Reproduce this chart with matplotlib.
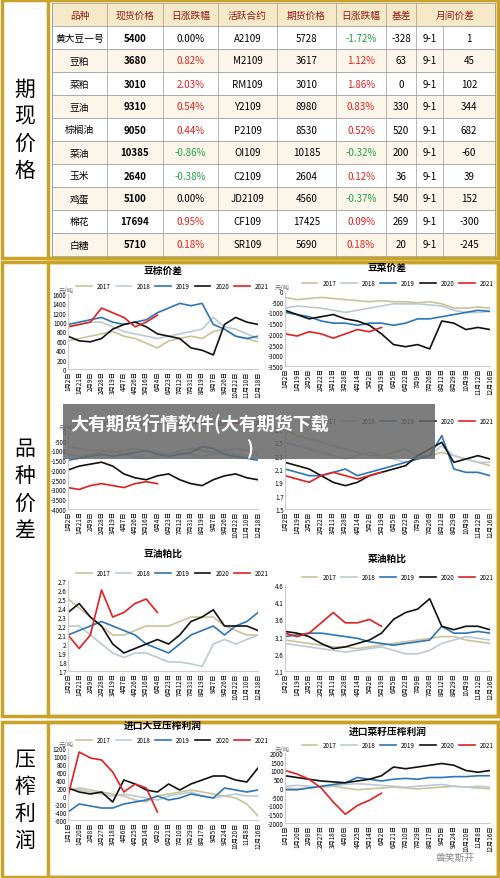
import matplotlib
matplotlib.use("Agg")
import matplotlib.pyplot as plt
from matplotlib.patches import Rectangle
import numpy as np

plt.rcParams['font.family'] = ['Noto Sans CJK SC', 'DejaVu Sans']

# ---------------- table data ----------------
header = ["品种", "现货价格", "日涨跌幅", "活跃合约", "期货价格", "日涨跌幅", "基差", "月间价差"]
varieties = ["黄大豆一号", "豆粕", "菜粕", "豆油", "棕榈油", "菜油", "玉米", "鸡蛋", "棉花", "白糖"]
spot = ["5400", "3680", "3010", "9310", "9050", "10385", "2640", "5100", "17694", "5710"]
spot_chg = [0.00, 0.82, 2.03, 0.54, 0.44, -0.86, -0.38, 0.00, 0.95, 0.18]
contracts = ["A2109", "M2109", "RM109", "Y2109", "P2109", "OI109", "C2109", "JD2109", "CF109", "SR109"]
futures = ["5728", "3617", "3010", "8980", "8530", "10185", "2604", "4560", "17425", "5690"]
fut_chg = [-1.72, 1.12, 1.86, 0.83, 0.52, -0.32, 0.12, -0.37, 0.09, 0.18]
basis = ["-328", "63", "0", "330", "520", "200", "36", "540", "269", "20"]
spread_name = ["9-1"] * 10
spread = ["1", "45", "102", "344", "682", "-60", "39", "152", "-300", "-245"]

# ---------------- chart data ----------------
years = ["2017", "2018", "2019", "2020", "2021"]
ycolors = ["#c9c39a", "#bcc9d4", "#2e75b6", "#111111", "#e02020"]
ticks_a = ["1月2日","1月21日","2月9日","2月28日","3月19日","4月7日","4月26日","5月16日","6月4日",
           "6月23日","7月12日","7月31日","8月19日","9月7日","9月26日","10月22日","11月10日","12月18日"]
ticks_b = ["1月2日","1月19日","2月5日","2月22日","3月11日","3月28日","4月14日","5月2日","5月19日",
           "6月5日","6月22日","7月9日","7月26日","8月12日","8月29日","10月9日","11月12日","12月16日"]
ticks_c = ["1月1日","1月20日","2月8日","2月27日","3月18日","4月6日","4月25日","5月14日","6月2日",
           "6月21日","7月10日","7月29日","8月17日","9月5日","9月24日","10月20日","11月8日","12月16日"]

doupalm = [[600,650,700,750,800,700,650,550,450,600,650,700,650,800,850,700,650,580],
           [900,950,1000,1000,900,800,750,700,650,700,750,800,850,1100,900,850,750,650],
           [950,1000,1050,1100,1000,950,1000,1050,1200,1300,1400,1350,1400,950,850,700,650,700],
           [700,600,580,650,850,950,1000,900,750,700,650,450,400,300,950,1100,1000,950],
           [900,950,1000,1300,1200,1100,900,1000,1150]]
douyc = [[-300,-400,-350,-300,-350,-400,-450,-500,-450,-500,-500,-550,-500,-600,-800,-800,-750,-800],
         [-800,-700,-750,-800,-900,-1000,-900,-800,-700,-600,-600,-600,-650,-700,-900,-1000,-1000,-950],
         [-1000,-1100,-1200,-1400,-1500,-1500,-1600,-1500,-1500,-1600,-1500,-1300,-1300,-1200,-1100,-1000,-900,-950],
         [-900,-1100,-1300,-1200,-1100,-1300,-1400,-1600,-2000,-2500,-2600,-2500,-2700,-1400,-1500,-1800,-1700,-1800],
         [-2000,-2100,-1900,-2000,-2200,-2000,-1800,-1900,-1700]]
hidden_left = [[-800,-900,-1000,-1000,-1100,-1000,-900,-1000,-1100,-1200,-1000,-900,-1000,-1100,-1000,-900,-1000,-1100],
               [-1200,-1300,-1200,-1100,-1000,-1200,-1300,-1400,-1300,-1200,-1100,-1200,-1300,-1200,-1100,-1200,-1300,-1200],
               [-1500,-1400,-1300,-1200,-1300,-1200,-1100,-1000,-1200,-1300,-1200,-1100,-800,-900,-1200,-1300,-1400,-1500],
               [-2000,-1800,-1700,-1600,-1800,-2200,-2400,-2500,-2300,-2200,-2500,-2700,-2800,-2500,-2300,-2200,-2400,-2500],
               [-2900,-3000,-2800,-2700,-2800,-2900,-2700,-2600,-2700]]
hidden_right = [[2.7,2.6,2.55,2.5,2.45,2.4,2.35,2.3,2.3,2.35,2.4,2.3,2.3,2.35,2.3,2.25,2.2,2.15],
                [2.5,2.45,2.4,2.35,2.3,2.25,2.3,2.35,2.3,2.25,2.2,2.25,2.3,2.45,2.3,2.25,2.2,2.2],
                [2.1,2.05,2.0,2.0,2.05,2.1,2.0,2.05,2.1,2.15,2.2,2.25,2.3,2.6,2.1,2.05,2.05,2.0],
                [2.2,2.15,2.1,2.0,1.9,1.85,1.9,2.0,2.05,2.1,2.15,2.3,2.4,2.5,2.2,2.25,2.3,2.25],
                [2.0,1.95,1.9,2.0,2.05,2.0,1.95,2.0,2.05]]
dyzb = [[2.5,2.4,2.3,2.2,2.1,2.1,2.15,2.2,2.2,2.2,2.25,2.3,2.3,2.3,2.2,2.15,2.1,2.1],
        [2.2,2.2,2.1,2.0,1.9,1.85,1.9,1.9,1.85,1.8,1.8,1.78,1.75,2.0,2.05,2.0,2.05,2.1],
        [2.1,2.15,2.2,2.25,2.2,2.15,2.1,2.0,1.95,1.9,2.0,2.1,2.15,2.2,2.1,2.2,2.25,2.35],
        [2.35,2.45,2.3,2.2,2.0,1.9,1.95,2.0,2.05,2.0,2.1,2.25,2.3,2.38,2.2,2.2,2.2,2.15],
        [2.1,1.95,2.1,2.6,2.3,2.35,2.45,2.5,2.35]]
cyzb = [[3.0,2.95,2.9,2.85,2.8,2.8,2.75,2.8,2.85,2.9,2.95,3.0,3.05,3.1,3.1,3.0,2.95,2.9],
        [2.9,2.85,2.8,2.75,2.7,2.65,2.7,2.75,2.8,2.7,2.6,2.6,2.7,2.9,3.0,3.1,3.05,3.0],
        [3.1,3.15,3.2,3.2,3.15,3.1,3.05,2.95,2.9,2.85,2.9,2.95,3.0,3.4,3.2,3.2,3.25,3.2],
        [3.25,3.2,3.1,2.9,2.75,2.8,2.9,3.0,3.2,3.6,3.8,3.9,4.2,3.4,3.3,3.4,3.4,3.3],
        [3.2,3.1,3.2,3.5,3.8,3.5,3.5,3.6,3.4]]
soy_crush = [[150,200,150,100,50,0,-100,-150,0,50,100,150,100,50,0,-50,-200,-500],
             [200,150,100,50,0,50,0,-50,-100,0,50,100,0,-50,0,50,0,0],
             [-400,-200,-250,-300,-300,-200,-150,-100,0,-100,-50,50,0,-50,200,150,100,150],
             [200,100,50,100,-150,400,300,150,100,300,150,300,400,500,500,400,350,700],
             [0,1100,950,900,600,100,300,200,-400]]
rape_crush = [[0,-50,0,50,100,0,-100,-50,0,50,0,-50,0,50,100,50,0,-50],
              [100,150,100,50,150,200,250,200,150,100,50,100,150,200,100,50,100,50],
              [-100,-100,0,100,200,300,600,500,400,500,550,500,600,600,650,650,700,700],
              [700,600,500,400,350,300,400,500,700,1200,1100,1200,1300,1400,1300,1000,900,1000],
              [1000,800,500,0,-800,-1500,-1000,-700,-300]]

W, H = 500, 879
fig = plt.figure(figsize=(5, 8.79), dpi=100)
fig.patch.set_facecolor("white")
GOLD = "#c9a227"

def rect(x, y, w, h, **kw):
    fig.add_artist(Rectangle((x / W, 1 - (y + h) / H), w / W, h / H, transform=fig.transFigure, **kw))

def ftext(x, y, s, **kw):
    fig.text(x / W, 1 - y / H, s, **kw)

# sections
for (y0, y1, lab) in [(0, 260, "期\n现\n价\n格"), (262, 718, "品\n种\n价\n差"), (722, 879, "压\n榨\n利\n润")]:
    rect(2, y0 + 1, 496, y1 - y0 - 2, facecolor="none", edgecolor=GOLD, lw=2.5, zorder=-5)
    rect(48, y0 + 1, 450, y1 - y0 - 2, facecolor="none", edgecolor=GOLD, lw=2.5, zorder=-5)
    ftext(25, (y0 + y1) / 2, lab, ha="center", va="center", fontsize=15, linespacing=1.3)

# table
colx = [52, 107, 163, 218, 277, 336, 386, 416, 443, 495]
top, rh = 4, 23
nrows = 11
for i in range(nrows):
    y = top + i * rh
    fc = "#f6e9c8" if i == 0 else ("#fbf6e9" if i % 2 == 0 else "white")
    rect(colx[0], y, colx[-1] - colx[0], rh, facecolor=fc, edgecolor="#999999", lw=0.5)
for k, x in enumerate(colx):
    ystart = top + rh if k == 8 else top
    fig.add_artist(plt.Line2D([x / W, x / W], [1 - ystart / H, 1 - (top + nrows * rh) / H],
                              transform=fig.transFigure, color="#999999", lw=0.5))
for j, hname in enumerate(header):
    cx = (colx[j] + colx[j + 1]) / 2 if j < 7 else (colx[7] + colx[9]) / 2
    ftext(cx, top + rh / 2, hname, ha="center", va="center", fontsize=7, color="#8b1a1a")
def pct_color(v):
    return "#e02020" if v > 0 else ("#20a040" if v < 0 else "black")
for i in range(10):
    cy = top + (i + 1) * rh + rh / 2
    vals = [varieties[i], spot[i], f"{spot_chg[i]:.2f}%", contracts[i], futures[i],
            f"{fut_chg[i]:.2f}%", basis[i], spread_name[i], spread[i]]
    cols = ["black", "black", pct_color(spot_chg[i]), "black", "black", pct_color(fut_chg[i]),
            "black", "black", "black"]
    for j, v in enumerate(vals):
        cx = (colx[j] + colx[j + 1]) / 2
        ftext(cx, cy, v, ha="center", va="center", fontsize=7, color=cols[j],
              fontweight="bold" if j == 1 else "normal")

def chart(x0, y0, w, h, title, data, ylim, yticks, ticks, unit="", ytfmt="{:g}"):
    ax = fig.add_axes([x0 / W, 1 - (y0 + h) / H, w / W, h / H])
    ax.patch.set_alpha(0)
    for k, (s, c) in enumerate(zip(data, ycolors)):
        ax.plot(np.arange(len(s)), s, color=c, lw=1.2, label=years[k])
    ax.set_ylim(*ylim)
    ax.set_yticks(yticks)
    ax.set_yticklabels([ytfmt.format(t) for t in yticks], fontsize=4.5)
    ax.set_xlim(0, len(ticks) - 1)
    ax.set_xticks(np.arange(len(ticks)))
    ax.set_xticklabels(ticks, rotation=90, fontsize=4.5)
    ax.tick_params(length=0, pad=1)
    for sp in ["top", "right"]:
        ax.spines[sp].set_visible(False)
    ax.spines["left"].set_color("#cccccc")
    ax.spines["bottom"].set_color("#cccccc")
    if title:
        ax.text(0.5, 1.28, title, transform=ax.transAxes, ha="center", fontsize=7, fontweight="bold")
    ax.legend(loc="lower center", bbox_to_anchor=(0.55, 1.0), ncol=5, fontsize=4.5, frameon=False,
              handlelength=2.5, columnspacing=0.8, borderaxespad=0.2)
    if unit:
        ax.text(-0.05, 1.03, unit, transform=ax.transAxes, fontsize=4.5, color="#666666")
    return ax

chart(68, 295, 190, 75, "豆棕价差", doupalm, (0, 1600), range(0, 1601, 200), ticks_a, "元/吨")
chart(285, 292, 205, 75, "豆菜价差", douyc, (-3500, 0), range(-3500, 1, 500), ticks_b, "元/吨")
chart(68, 432, 190, 78, "", hidden_left, (-4000, 0), range(-4000, 1, 500), ticks_a, "元/吨")
chart(285, 430, 205, 80, "", hidden_right, (1.5, 2.7), [1.5, 1.7, 1.9, 2.1, 2.3, 2.5, 2.7], ticks_b)
chart(68, 582, 190, 90, "豆油粕比", dyzb, (1.7, 2.7), [1.7, 1.8, 1.9, 2.0, 2.1, 2.2, 2.3, 2.4, 2.5, 2.6, 2.7], ticks_a)
chart(285, 586, 205, 86, "菜油粕比", cyzb, (2.1, 4.6), [2.1, 2.6, 3.1, 3.6, 4.1, 4.6], ticks_b)
chart(68, 749, 190, 72, "进口大豆压榨利润", soy_crush, (-600, 1200), range(-600, 1201, 200), ticks_c, "元/吨")
chart(285, 754, 205, 70, "进口菜籽压榨利润", rape_crush, (-2000, 2000), range(-2000, 2001, 500), ticks_c, "元/吨")

# overlay banner
rect(63, 405, 372, 55, facecolor="#666666", edgecolor="none", alpha=0.85, zorder=10)
ftext(70, 423, "大有期货行情软件(大有期货下载", fontsize=13, color="white", fontweight="bold",
      va="center", zorder=11)
ftext(249, 449, ")", fontsize=13, color="white", fontweight="bold", ha="center", va="center", zorder=11)
ftext(455, 858, "兽笑斯开", fontsize=7, color="#888888", ha="center", va="center")

fig.savefig("out.png", dpi=100)
